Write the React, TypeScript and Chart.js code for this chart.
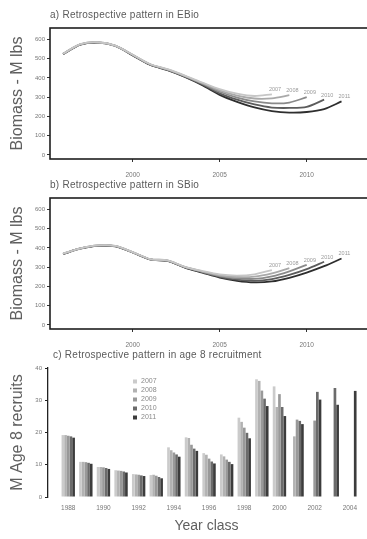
import React, { useEffect, useRef } from 'react';
import { Chart, registerables } from 'chart.js';

Chart.register(...registerables);

// ---------- data ----------
const YEARS = [1996, 1997, 1998, 1999, 2000, 2001, 2002, 2003, 2004, 2005, 2006, 2007, 2008, 2009, 2010, 2011, 2012];
const RUNS = ['2007', '2008', '2009', '2010', '2011'];

const EBIO_2007 = [525, 575, 585, 568, 520, 472, 445, 412, 376, 342, 318, 306, 315];
const EBIO_2008 = [525, 575, 585, 568, 520, 471, 444, 410, 373, 335, 308, 293, 294, 310];
const EBIO_2009 = [525, 574, 584, 567, 519, 470, 443, 409, 370, 328, 298, 278, 268, 272, 300];
const EBIO_2010 = [524, 574, 584, 567, 518, 469, 442, 407, 366, 320, 287, 262, 246, 244, 250, 287];
const EBIO_2011 = [523, 573, 583, 566, 517, 468, 440, 405, 362, 312, 276, 247, 228, 220, 223, 238, 278];

const SBIO_2007 = [370, 398, 413, 410, 378, 342, 335, 302, 280, 262, 256, 263, 285];
const SBIO_2008 = [370, 398, 413, 410, 378, 342, 335, 301, 278, 258, 249, 251, 268, 295];
const SBIO_2009 = [369, 397, 412, 409, 377, 341, 334, 300, 276, 254, 242, 239, 252, 278, 312];
const SBIO_2010 = [369, 397, 412, 409, 377, 341, 333, 299, 274, 250, 235, 229, 238, 260, 290, 328];
const SBIO_2011 = [368, 396, 411, 408, 376, 340, 332, 298, 272, 246, 229, 221, 226, 245, 272, 305, 345];

const BIO_TICKS = [0, 100, 200, 300, 400, 500, 600];
const YEAR_TICKS = [2000, 2005, 2010];

const YEAR_CLASSES = [1988, 1989, 1990, 1991, 1992, 1993, 1994, 1995, 1996, 1997, 1998, 1999, 2000, 2001, 2002, 2003, 2004];
const REC_2007 = [19.2, 10.9, 9.3, 8.3, 7.1, 6.8, 15.4, 18.5, 13.6, 13.2, 24.6, 36.5, 34.3, null, null, null, null];
const REC_2008 = [19.2, 10.9, 9.3, 8.2, 7.0, 6.9, 14.5, 18.3, 13.1, 12.6, 23.3, 36.0, 27.9, 18.8, null, null, null];
const REC_2009 = [19.0, 10.8, 9.2, 8.1, 6.9, 6.6, 13.8, 16.2, 11.9, 11.6, 21.5, 33.0, 31.9, 24.0, 23.7, null, null];
const REC_2010 = [18.8, 10.6, 9.0, 7.9, 6.7, 6.2, 13.2, 15.0, 11.0, 10.9, 19.9, 30.5, 27.9, 23.6, 32.6, 33.8, null];
const REC_2011 = [18.4, 10.3, 8.7, 7.6, 6.5, 5.8, 12.5, 14.3, 10.4, 10.2, 18.2, 28.2, 25.1, 22.6, 30.2, 28.6, 32.9];
const REC_TICKS = [0, 10, 20, 30, 40];
const YEAR_CLASS_TICKS = [1988, 1990, 1992, 1994, 1996, 1998, 2000, 2002, 2004];

const LINE_COLORS = ['#c6c6c6', '#a9a9a9', '#8a8a8a', '#5c5c5c', '#2e2e2e'];
const BAR_COLORS = ['#cbcbcb', '#b2b2b2', '#999999', '#6b6b6b', '#3c3c3c'];

const FONT = "'Liberation Sans', Arial, sans-serif";

// ---------- helpers ----------
const toPoints = (vals: (number | null)[], xs: number[]) =>
  vals.map((v, i) => ({ x: xs[i], y: v })).filter((p) => p.y !== null);

const boxPlugin = {
  id: 'box',
  afterDraw(chart: any) {
    const { ctx, chartArea: a } = chart;
    ctx.save();
    ctx.strokeStyle = '#1e1e1e';
    ctx.lineWidth = 1.6;
    ctx.strokeRect(a.left, a.top, a.right - a.left, a.bottom - a.top);
    ctx.restore();
  },
};

const endLabelPlugin = {
  id: 'endLabels',
  afterDatasetsDraw(chart: any) {
    const { ctx } = chart;
    ctx.save();
    ctx.font = `5.5px ${FONT}`;
    ctx.fillStyle = '#9a9a9a';
    ctx.textAlign = 'left';
    ctx.textBaseline = 'alphabetic';
    chart.data.datasets.forEach((ds: any, i: number) => {
      const pts = chart.getDatasetMeta(i).data;
      const last = pts[pts.length - 1];
      if (last) ctx.fillText(ds.label, last.x - 3, last.y - 3);
    });
    ctx.restore();
  },
};

const legendPlugin = {
  id: 'miniLegend',
  afterDraw(chart: any) {
    const { ctx, chartArea: a } = chart;
    ctx.save();
    ctx.font = `7px ${FONT}`;
    ctx.textBaseline = 'middle';
    chart.data.datasets.forEach((ds: any, i: number) => {
      const y = a.top + 13.5 + i * 9;
      const x = a.left + 85;
      ctx.fillStyle = ds.backgroundColor;
      ctx.fillRect(x, y - 2, 4, 4);
      ctx.fillStyle = '#8a8a8a';
      ctx.fillText(ds.label, x + 8, y);
    });
    ctx.restore();
  },
};

function bioConfig(series: number[][]) {
  return {
    type: 'line',
    data: {
      datasets: series.map((vals, i) => ({
        label: RUNS[i],
        data: toPoints(vals, YEARS),
        borderColor: LINE_COLORS[i],
        borderWidth: 1.8,
        pointRadius: 0,
        tension: 0.3,
        fill: false,
      })),
    },
    options: {
      responsive: false,
      animation: false,
      layout: { padding: { top: 28, left: 0, right: 0, bottom: 0 } },
      plugins: { legend: { display: false }, tooltip: { enabled: false }, title: { display: false } },
      scales: {
        x: {
          type: 'linear',
          min: 1995.25,
          max: 2015.36,
          afterBuildTicks: (s: any) => { s.ticks = YEAR_TICKS.map((v) => ({ value: v })); },
          afterFit: (s: any) => { s.height = 31; },
          border: { display: false },
          grid: { drawOnChartArea: false, drawTicks: true, tickLength: 3, color: '#333' },
          ticks: { font: { size: 6.5, family: FONT }, color: '#777', padding: 9, maxRotation: 0, callback: (v: any) => String(v) },
        },
        y: {
          type: 'linear',
          min: -21,
          max: 659,
          afterBuildTicks: (s: any) => { s.ticks = BIO_TICKS.map((v) => ({ value: v })); },
          afterFit: (s: any) => { s.width = 50; },
          border: { display: false },
          grid: { drawOnChartArea: false, drawTicks: true, tickLength: 3, color: '#333' },
          ticks: { font: { size: 6, family: FONT }, color: '#777', padding: 2, callback: (v: any) => String(v) },
          title: {
            display: true,
            text: 'Biomass - M lbs',
            color: '#5f5f5f',
            font: { size: 16, family: FONT },
            padding: { top: 8, bottom: 0 },
          },
        },
      },
    },
    plugins: [boxPlugin, endLabelPlugin],
  };
}

function recConfig() {
  const series = [REC_2007, REC_2008, REC_2009, REC_2010, REC_2011];
  return {
    type: 'bar',
    data: {
      datasets: series.map((vals, i) => ({
        label: RUNS[i],
        data: YEAR_CLASSES.map((yc, j) => ({ x: yc, y: vals[j] })),
        backgroundColor: BAR_COLORS[i],
        borderWidth: 0,
        categoryPercentage: 0.76,
        barPercentage: 1,
      })),
    },
    options: {
      responsive: false,
      animation: false,
      layout: { padding: { top: 28, left: 0, right: 2, bottom: 0 } },
      plugins: { legend: { display: false }, tooltip: { enabled: false }, title: { display: false } },
      scales: {
        x: {
          type: 'linear',
          offset: false,
          min: 1986.85,
          max: 2004.86,
          afterBuildTicks: (s: any) => { s.ticks = YEAR_CLASS_TICKS.map((v) => ({ value: v })); },
          afterFit: (s: any) => { s.height = 42; },
          border: { display: false },
          grid: { display: false, offset: false, tickLength: 0 },
          ticks: { font: { size: 6.5, family: FONT }, color: '#777', padding: 7, maxRotation: 0, callback: (v: any) => String(v) },
          title: {
            display: true,
            text: 'Year class',
            color: '#5f5f5f',
            font: { size: 14, family: FONT },
            padding: { top: 0, bottom: 4 },
          },
        },
        y: {
          type: 'linear',
          min: 0,
          max: 40,
          afterBuildTicks: (s: any) => { s.ticks = REC_TICKS.map((v) => ({ value: v })); },
          afterFit: (s: any) => { s.width = 48; },
          border: { display: true, color: '#222', width: 1.3 },
          grid: { drawOnChartArea: false, drawTicks: true, tickLength: 3, color: '#222' },
          ticks: { font: { size: 6, family: FONT }, color: '#777', padding: 3, callback: (v: any) => String(v) },
          title: {
            display: true,
            text: 'M Age 8 recruits',
            color: '#5f5f5f',
            font: { size: 16, family: FONT },
            padding: { top: 8, bottom: 0 },
          },
        },
      },
    },
    plugins: [legendPlugin],
  };
}

const titleStyle = (left: number, top: number): React.CSSProperties => ({
  position: 'absolute',
  left,
  top,
  fontFamily: FONT,
  fontSize: 10,
  letterSpacing: 0.25,
  color: '#5a5a5a',
  lineHeight: '12px',
  whiteSpace: 'nowrap',
});

export default function App() {
  const refA = useRef<HTMLCanvasElement>(null);
  const refB = useRef<HTMLCanvasElement>(null);
  const refC = useRef<HTMLCanvasElement>(null);

  useEffect(() => {
    const a = new Chart(refA.current as any, bioConfig([EBIO_2007, EBIO_2008, EBIO_2009, EBIO_2010, EBIO_2011]) as any);
    const b = new Chart(refB.current as any, bioConfig([SBIO_2007, SBIO_2008, SBIO_2009, SBIO_2010, SBIO_2011]) as any);
    const c = new Chart(refC.current as any, recConfig() as any);
    return () => {
      a.destroy();
      b.destroy();
      c.destroy();
    };
  }, []);

  return (
    <div
      style={{
        position: 'absolute',
        left: 0,
        top: 0,
        width: 367,
        height: 539,
        overflow: 'hidden',
        background: '#fff',
      }}
    >
      <canvas ref={refA} width={400} height={190} style={{ position: 'absolute', left: 0, top: 0, display: 'block' }} />
      <canvas ref={refB} width={400} height={190} style={{ position: 'absolute', left: 0, top: 170, display: 'block' }} />
      <canvas ref={refC} width={367} height={199} style={{ position: 'absolute', left: 0, top: 340, display: 'block' }} />
      <div style={titleStyle(50, 9)}>a) Retrospective pattern in EBio</div>
      <div style={titleStyle(50, 179)}>b) Retrospective pattern in SBio</div>
      <div style={titleStyle(53, 349)}>c) Retrospective pattern in age 8 recruitment</div>
    </div>
  );
}
